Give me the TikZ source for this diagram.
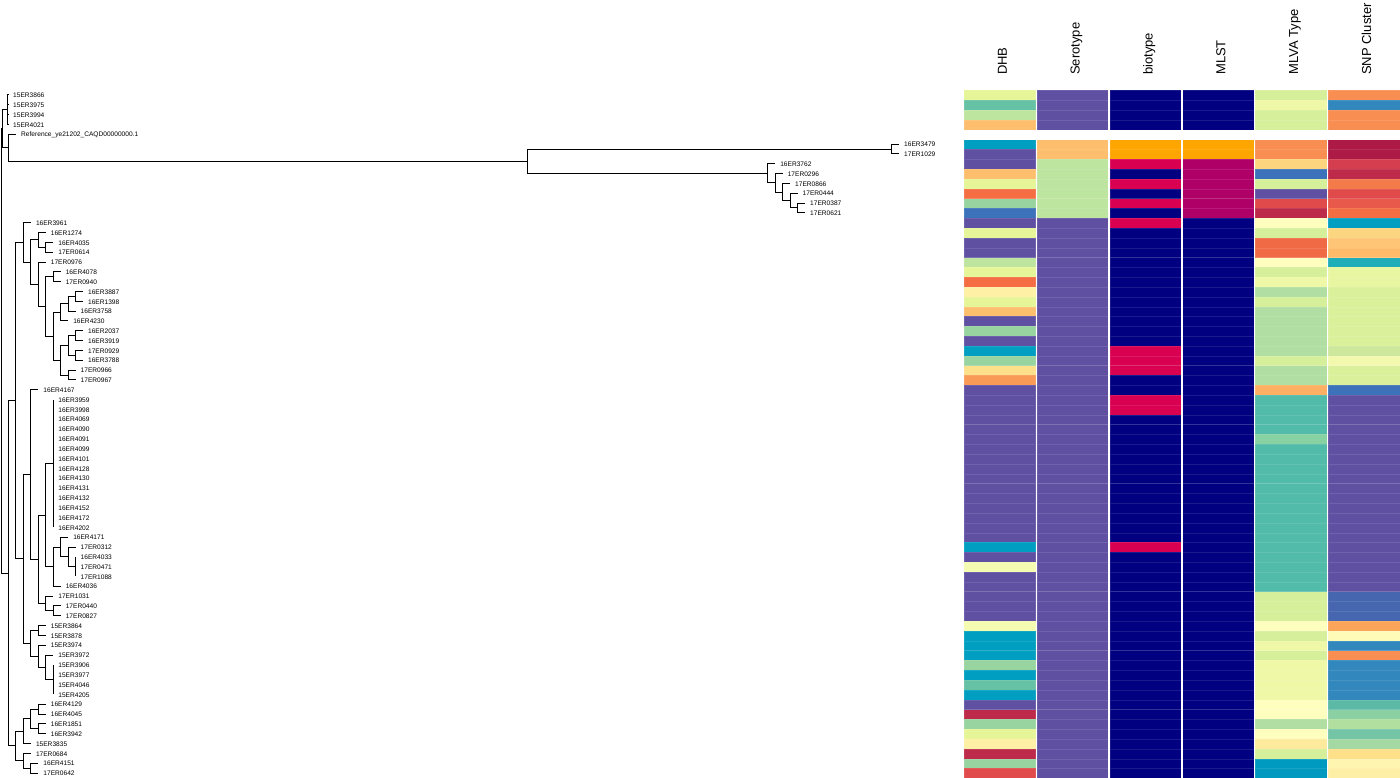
\documentclass[tikz,border=0pt]{standalone}
\usepackage{fontspec}
\setmainfont{Liberation Sans}
% colours
\definecolor{cylg}{HTML}{E6F598}\definecolor{ctea}{HTML}{66C2A5}\definecolor{clgr}{HTML}{BEE5A0}
\definecolor{clor}{HTML}{FDBE6E}\definecolor{ccya}{HTML}{009FC1}\definecolor{cpur}{HTML}{5F50A2}
\definecolor{corg}{HTML}{F46D43}\definecolor{cmgr}{HTML}{98D4A0}\definecolor{cblu}{HTML}{3C72B9}
\definecolor{cpyl}{HTML}{FEF0A5}\definecolor{cly2}{HTML}{FEE08B}\definecolor{cor2}{HTML}{F99A56}
\definecolor{cpye}{HTML}{F6FBB2}\definecolor{ccrm}{HTML}{BE2A4A}\definecolor{cred}{HTML}{E24B4B}
\definecolor{cnav}{HTML}{000080}\definecolor{cbor}{HTML}{FFA500}\definecolor{cpnk}{HTML}{D90052}
\definecolor{cmag}{HTML}{AF0068}\definecolor{cva}{HTML}{D6EF9B}\definecolor{cvb}{HTML}{EFF8A7}
\definecolor{cvor}{HTML}{F98E52}\definecolor{cvlo}{HTML}{FDD57F}\definecolor{cred2}{HTML}{E04A4A}
\definecolor{cvpy}{HTML}{FEFEBE}\definecolor{cvor2}{HTML}{F16A46}\definecolor{cvlg}{HTML}{B1DFA3}
\definecolor{cvlo2}{HTML}{FDB063}\definecolor{cvte}{HTML}{52BBA9}\definecolor{cvlg2}{HTML}{88D1A2}
\definecolor{cvpo}{HTML}{FDEA9C}\definecolor{cvcy}{HTML}{0099C0}\definecolor{csor}{HTML}{F98E52}
\definecolor{csbl}{HTML}{3288BD}\definecolor{cscr}{HTML}{AD1A46}\definecolor{csred}{HTML}{D53E4F}
\definecolor{csor2}{HTML}{F57A4A}\definecolor{csre3}{HTML}{E8594C}\definecolor{cslo1}{HTML}{FCD581}
\definecolor{cslo2}{HTML}{FDC575}\definecolor{cslo3}{HTML}{FDBA69}\definecolor{cste}{HTML}{1FAEB7}
\definecolor{cspy}{HTML}{E8F5A1}\definecolor{csyg}{HTML}{DBF09B}\definecolor{cslg}{HTML}{CDE89C}
\definecolor{cspy2}{HTML}{F2F8AE}\definecolor{csbl3}{HTML}{4666AF}\definecolor{csor3}{HTML}{FAA55A}
\definecolor{cspy3}{HTML}{FEFAB8}\definecolor{cstg}{HTML}{5CB9A5}\definecolor{cslg2}{HTML}{8BD0A3}
\definecolor{cslg3}{HTML}{B0DFA0}\definecolor{cstg2}{HTML}{74C5A6}\definecolor{cslg4}{HTML}{A5D9A4}
\definecolor{cspy4}{HTML}{FEF5B0}\definecolor{cspy5}{HTML}{FDF0A6}
\tikzset{
  edge/.style={draw=black, line width=1pt},
  tiplab/.style={anchor=west, inner sep=0pt, xshift=5pt, yshift=-0.4pt, font=\fontsize{6.6}{7}\selectfont},
  hdr/.style={rotate=90, anchor=base west, inner sep=0pt, font=\fontsize{13}{15}\selectfont},
  cellbox/.style={draw=white, draw opacity=0.1, line width=0.3pt}
}
\newcommand{\hmcol}[2]{\foreach \a/\b/\c in {#2} {\foreach \r in {\a,...,\b} {\filldraw[fill=\c, cellbox] (#1,\r-0.46) rectangle ++(71.6,1);}}}
\begin{document}
\begin{tikzpicture}[x=1pt,y=-1pt]
\useasboundingbox (0,0) rectangle (1400,778);
\fill[white] (0,0) rectangle (1400,778);
% headers
\node[hdr] (hDHB) at (1006.8,75) {DHB};
\node[hdr] (hSer) at (1079.6,75) {Serotype};
\node[hdr] (hBio) at (1152.5,75) {biotype};
\node[hdr] (hMLST) at (1225.3,75) {MLST};
\node[hdr] (hMLVA) at (1298.2,75) {MLVA Type};
\node[hdr] (hSNP) at (1371,75) {SNP Cluster};
\begin{scope}[y=-9.826pt, yshift=-85.174pt]
% heatmap
\hmcol{964}{1/1/cylg,2/2/ctea,3/3/clgr,4/4/clor,6/6/ccya,7/8/cpur,9/9/clor,10/10/cylg,11/11/corg,12/12/cmgr,13/13/cblu,14/14/cpur,15/15/cylg,16/17/cpur,18/18/clgr,19/19/cylg,20/20/corg,21/21/cpyl,22/22/cylg,23/23/clor,24/24/cpur,25/25/cmgr,26/26/cpur,27/27/ccya,28/28/cmgr,29/29/cly2,30/30/cor2,31/46/cpur,47/47/ccya,48/48/cpur,49/49/cpye,50/54/cpur,55/55/cpye,56/58/ccya,59/59/cmgr,60/60/ccya,61/61/ctea,62/62/ccya,63/63/cpur,64/64/ccrm,65/65/cmgr,66/66/cylg,67/67/cpyl,68/68/ccrm,69/69/cmgr,70/70/cred}
\hmcol{1036.85}{1/4/cpur,6/7/clor,8/13/clgr,14/70/cpur}
\hmcol{1109.7}{1/4/cnav,6/7/cbor,8/8/cpnk,9/9/cnav,10/10/cpnk,11/11/cnav,12/12/cpnk,13/13/cnav,14/14/cpnk,15/26/cnav,27/29/cpnk,30/31/cnav,32/33/cpnk,34/46/cnav,47/47/cpnk,48/70/cnav}
\hmcol{1182.55}{1/4/cnav,6/7/cbor,8/13/cmag,14/70/cnav}
\hmcol{1255.4}{1/1/cva,2/2/cvb,3/4/cva,6/7/cvor,8/8/cvlo,9/9/cblu,10/10/cva,11/11/cpur,12/12/cred2,13/13/ccrm,14/14/cvpy,15/15/cva,16/17/cvor2,18/18/cvpy,19/19/cva,20/20/cvb,21/21/cvlg,22/22/cva,23/27/cvlg,28/28/cva,29/30/cvlg,31/31/cvlo2,32/35/cvte,36/36/cvlg2,37/51/cvte,52/54/cva,55/55/cvpy,56/56/cva,57/57/cvb,58/58/cva,59/62/cvb,63/64/cvpy,65/65/cvlg,66/66/cvpy,67/67/cvpo,68/68/cva,69/70/cvcy}
\hmcol{1328.25}{1/1/csor,2/2/csbl,3/4/csor,6/7/cscr,8/8/csred,9/9/ccrm,10/10/csor2,11/11/cred2,12/12/csre3,13/13/corg,14/14/ccya,15/15/cslo1,16/16/cslo2,17/17/cslo3,18/18/cste,19/20/cspy,21/26/csyg,27/27/cslg,28/28/cspy2,29/30/csyg,31/31/cblu,32/51/cpur,52/54/csbl3,55/55/csor3,56/56/cspy3,57/57/csbl,58/58/csor,59/62/csbl,63/63/cstg,64/64/cslg2,65/65/cslg3,66/66/cstg2,67/67/cslg4,68/68/cly2,69/69/cspy4,70/70/cspy5}
% internal nodes
\coordinate (root) at (1,27.06);
\coordinate (nA) at (2.7,4.434);
\coordinate (n4) at (7.5,2.5);
\coordinate (nAp) at (8,6.367);
\coordinate (nL) at (527,7.734);
\coordinate (n67) at (891.7,6.5);
\coordinate (n8) at (767.7,8.969);
\coordinate (n9) at (775.1,9.9375);
\coordinate (n10) at (782.6,10.875);
\coordinate (n11) at (790,11.75);
\coordinate (n12) at (797.5,12.5);
\coordinate (nB) at (8.45,49.68);
\coordinate (nB1) at (15.9,32.111);
\coordinate (nD) at (23.35,16.004);
\coordinate (nE) at (30.8,18.008);
\coordinate (nF) at (38.25,15.75);
\coordinate (nF2) at (45.7,16.5);
\coordinate (nG) at (38.25,20.266);
\coordinate (nH) at (45.7,22.531);
\coordinate (nI) at (53.15,19.5);
\coordinate (nJ) at (53.15,25.5625);
\coordinate (nK) at (60.6,23.125);
\coordinate (nKp) at (68.05,22.25);
\coordinate (nKpp) at (75.5,21.5);
\coordinate (nLL) at (60.6,28);
\coordinate (nM) at (68.05,26.5);
\coordinate (nM1) at (75.5,25.5);
\coordinate (nM2) at (75.5,27.5);
\coordinate (nN) at (68.05,29.5);
\coordinate (nC2) at (23.35,48.219);
\coordinate (nC2a) at (30.8,39.625);
\coordinate (nU) at (38.25,48.25);
\coordinate (nU1) at (45.7,43.75);
\coordinate (nP1) at (53.15,38.5);
\coordinate (nV2) at (53.15,49);
\coordinate (nV) at (60.6,47);
\coordinate (nW) at (68.05,48);
\coordinate (nW2) at (75.5,49);
\coordinate (nU2) at (45.7,52.75);
\coordinate (nU2p) at (53.15,53.5);
\coordinate (nC2b) at (30.8,56.8125);
\coordinate (nPa) at (38.25,55.5);
\coordinate (nCc) at (38.25,58.125);
\coordinate (nBb) at (45.7,59.25);
\coordinate (nP2) at (53.15,60.5);
\coordinate (nR) at (15.9,67.25);
\coordinate (nS) at (23.35,65.75);
\coordinate (nT) at (30.8,64.5);
\coordinate (nT1) at (38.25,63.5);
\coordinate (nT2) at (38.25,65.5);
\coordinate (nQ) at (23.35,68.75);
\coordinate (nP) at (30.8,69.5);
% tips and labels
\foreach \i/\x/\t in {1/8/15ER3866,2/8/15ER3975,3/8/15ER3994,4/8/15ER4021,
  6/899/16ER3479,7/899/17ER1029,8/775.1/16ER3762,9/782.6/17ER0296,10/790/17ER0866,11/797.5/17ER0444,12/805/17ER0387,13/805/17ER0621,
  14/30.8/16ER3961,15/45.7/16ER1274,16/53.15/16ER4035,17/53.15/17ER0614,18/45.7/17ER0976,19/60.6/16ER4078,20/60.6/17ER0940,
  21/82.95/16ER3887,22/82.95/16ER1398,23/75.5/16ER3758,24/68.05/16ER4230,25/82.95/16ER2037,26/82.95/16ER3919,27/82.95/17ER0929,28/82.95/16ER3788,
  29/75.5/17ER0966,30/75.5/17ER0967,31/38.25/16ER4167,
  32/53.15/16ER3959,33/53.15/16ER3998,34/53.15/16ER4069,35/53.15/16ER4090,36/53.15/16ER4091,37/53.15/16ER4099,38/53.15/16ER4101,
  39/53.15/16ER4128,40/53.15/16ER4130,41/53.15/16ER4131,42/53.15/16ER4132,43/53.15/16ER4152,44/53.15/16ER4172,45/53.15/16ER4202,
  46/68.05/16ER4171,47/75.5/17ER0312,48/75.5/16ER4033,49/75.5/17ER0471,50/75.5/17ER1088,51/60.6/16ER4036,52/53.15/17ER1031,
  53/60.6/17ER0440,54/60.6/17ER0827,55/45.7/15ER3864,56/45.7/15ER3878,57/45.7/15ER3974,58/53.15/15ER3972,
  59/53.15/15ER3906,60/53.15/15ER3977,61/53.15/15ER4046,62/53.15/15ER4205,63/45.7/16ER4129,64/45.7/16ER4045,65/45.7/16ER1851,66/45.7/16ER3942,
  67/30.8/15ER3835,68/30.8/17ER0684,69/38.25/16ER4151,70/38.25/17ER0642}
  {\coordinate (t\i) at (\x,\i); \node[tiplab] (l\i) at (t\i) {\t};}
\coordinate (t5) at (16,5);
\node[tiplab] (l5) at (t5) {Reference\_ye21202\_CAQD00000000.1};
% edges
\foreach \p/\c in {root/nA,root/nB,nA/n4,nA/nAp,n4/t1,n4/t2,n4/t3,n4/t4,nAp/t5,nAp/nL,nL/n67,nL/n8,n67/t6,n67/t7,
  n8/t8,n8/n9,n9/t9,n9/n10,n10/t10,n10/n11,n11/t11,n11/n12,n12/t12,n12/t13,
  nB/nB1,nB/nR,nB1/nD,nB1/nC2,nD/t14,nD/nE,nE/nF,nE/nG,nF/t15,nF/nF2,nF2/t16,nF2/t17,nG/t18,nG/nH,
  nH/nI,nH/nJ,nI/t19,nI/t20,nJ/nK,nJ/nLL,nK/nKp,nK/t24,nKp/nKpp,nKp/t23,nKpp/t21,nKpp/t22,
  nLL/nM,nLL/nN,nM/nM1,nM/nM2,nM1/t25,nM1/t26,nM2/t27,nM2/t28,nN/t29,nN/t30,
  nC2/nC2a,nC2/nC2b,nC2a/t31,nC2a/nU,nU/nU1,nU/nU2,nU1/nP1,nU1/nV2,
  nP1/t32,nP1/t33,nP1/t34,nP1/t35,nP1/t36,nP1/t37,nP1/t38,nP1/t39,nP1/t40,nP1/t41,nP1/t42,nP1/t43,nP1/t44,nP1/t45,
  nV2/nV,nV2/t51,nV/t46,nV/nW,nW/t47,nW/nW2,nW2/t48,nW2/t49,nW2/t50,nU2/t52,nU2/nU2p,nU2p/t53,nU2p/t54,
  nC2b/nPa,nC2b/nCc,nPa/t55,nPa/t56,nCc/t57,nCc/nBb,nBb/t58,nBb/nP2,nP2/t59,nP2/t60,nP2/t61,nP2/t62,
  nR/nS,nR/nQ,nS/nT,nS/t67,nT/nT1,nT/nT2,nT1/t63,nT1/t64,nT2/t65,nT2/t66,nQ/t68,nQ/nP,nP/t69,nP/t70}
  {\draw[edge] (\p) |- (\c);}
\end{scope}
\end{tikzpicture}
\end{document}
